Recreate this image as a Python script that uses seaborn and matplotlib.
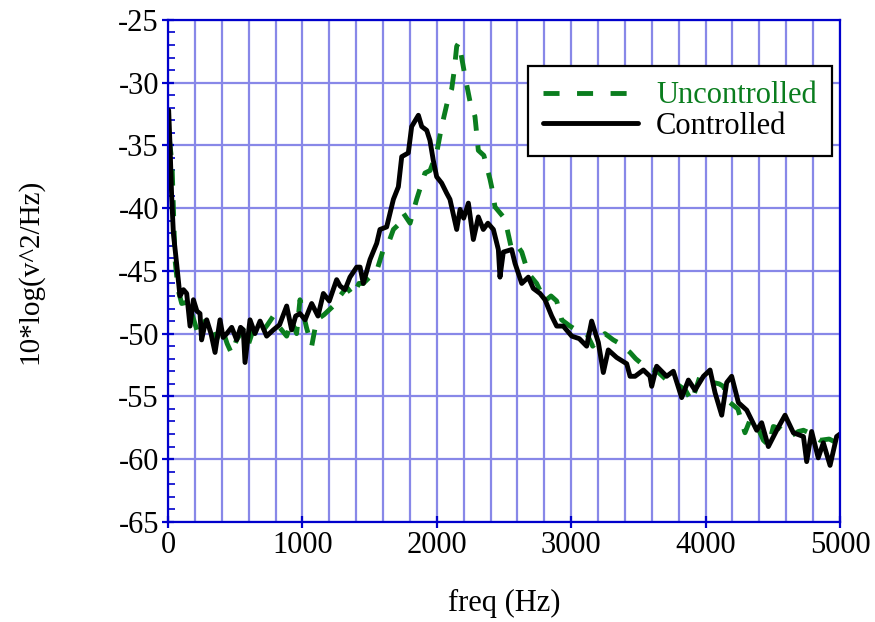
import pandas as pd
import matplotlib
matplotlib.use("Agg")
import matplotlib.pyplot as plt
from matplotlib.ticker import MultipleLocator
from matplotlib.lines import Line2D
import seaborn as sns

# Controlled (black) spectrum
ctrl_freq = [5, 15, 27, 40, 65, 89, 115, 139, 164, 189, 215, 238, 250, 270, 288, 320, 350, 387, 410, 437,
             474, 511, 540, 560, 573, 610, 647, 685, 734, 784, 830, 883, 920, 950, 982, 1020, 1069, 1116,
             1156, 1200, 1255, 1280, 1317, 1354, 1404, 1429, 1453, 1503, 1553, 1577, 1627, 1677, 1714,
             1739, 1788, 1813, 1863, 1888, 1925, 1949, 1974, 1999, 2036, 2073, 2098, 2148, 2173, 2200,
             2235, 2272, 2309, 2346, 2380, 2421, 2458, 2470, 2495, 2557, 2582, 2632, 2681, 2718, 2768,
             2805, 2855, 2892, 2941, 3004, 3060, 3115, 3152, 3202, 3239, 3276, 3338, 3413, 3438, 3475,
             3537, 3586, 3599, 3636, 3710, 3760, 3822, 3872, 3921, 3984, 4033, 4070, 4120, 4157, 4194,
             4244, 4306, 4380, 4417, 4467, 4529, 4591, 4653, 4728, 4752, 4789, 4838, 4876, 4926, 4975, 5000]
ctrl_db = [-32.2, -35.0, -39.0, -42.0, -44.5, -47.0, -46.5, -46.8, -49.4, -47.3, -48.2, -48.4, -50.5, -49.5,
           -48.9, -50.0, -51.5, -48.9, -50.3, -50.0, -49.5, -50.5, -49.5, -49.7, -52.3, -48.9, -50.0, -49.0,
           -50.2, -49.7, -49.3, -47.8, -49.7, -48.6, -48.4, -48.9, -47.6, -48.6, -46.8, -47.4, -45.7, -46.2,
           -46.5, -45.5, -44.7, -44.7, -46.0, -44.1, -42.8, -41.7, -41.5, -39.3, -38.3, -35.9, -35.6, -33.5,
           -32.6, -33.5, -33.8, -34.6, -36.2, -37.5, -38.0, -38.8, -39.3, -41.7, -40.1, -40.8, -39.6, -42.5,
           -40.7, -41.7, -41.2, -41.7, -43.3, -45.5, -43.5, -43.3, -44.4, -46.0, -45.5, -46.4, -46.8, -47.3,
           -48.6, -49.4, -49.4, -50.2, -50.4, -51.0, -49.0, -50.7, -53.1, -51.3, -51.9, -52.4, -53.4, -53.4,
           -52.9, -53.4, -54.2, -52.6, -53.4, -53.0, -55.1, -53.7, -54.5, -53.4, -52.9, -54.7, -56.5, -53.9,
           -53.4, -55.5, -56.1, -57.7, -57.1, -59.0, -57.7, -56.5, -57.9, -58.2, -60.2, -57.8, -59.9, -58.7,
           -60.5, -58.2, -58.0]

# Uncontrolled (green dashed) spectrum
unc_freq = [10, 30, 52, 75, 102, 140, 180, 238, 275, 312, 360, 400, 440, 474, 510, 560, 600, 640, 690, 740,
            784, 830, 883, 920, 957, 982, 1030, 1069, 1106, 1160, 1230, 1280, 1330, 1379, 1420, 1453, 1500,
            1553, 1602, 1640, 1677, 1726, 1751, 1801, 1850, 1912, 1950, 1999, 2036, 2086, 2111, 2130, 2148,
            2165, 2185, 2210, 2247, 2284, 2309, 2350, 2396, 2408, 2433, 2495, 2520, 2557, 2600, 2632, 2681,
            2743, 2805, 2850, 2892, 2929, 2991, 3050, 3115, 3160, 3202, 3251, 3313, 3363, 3438, 3480, 3524,
            3580, 3640, 3700, 3760, 3810, 3850, 3897, 3958, 4010, 4057, 4100, 4132, 4182, 4240, 4293, 4330,
            4380, 4430, 4470, 4504, 4560, 4628, 4690, 4728, 4790, 4851, 4920, 4975, 5000]
unc_db = [-34.5, -36.5, -44.1, -46.5, -47.6, -47.5, -48.5, -50.5, -49.0, -49.2, -50.5, -49.5, -50.8, -51.6,
          -50.5, -49.7, -50.8, -49.5, -50.0, -49.3, -48.6, -49.5, -50.2, -49.0, -50.0, -47.3, -49.5, -51.0,
          -48.9, -48.5, -47.8, -47.0, -46.3, -47.0, -46.0, -46.0, -45.5, -45.0, -43.3, -42.8, -41.7, -41.2,
          -40.4, -41.2, -39.3, -37.2, -37.0, -35.6, -33.5, -31.2, -30.5, -29.0, -27.1, -26.8, -28.0, -29.5,
          -31.5, -32.7, -35.4, -35.8, -37.7, -38.3, -39.9, -40.7, -41.5, -43.3, -43.0, -43.5, -45.2, -46.0,
          -47.4, -47.0, -47.4, -48.9, -49.4, -49.8, -50.0, -51.0, -50.5, -50.0, -50.5, -50.8, -51.5, -52.0,
          -52.4, -52.8, -53.0, -53.6, -53.8, -54.2, -54.5, -55.4, -53.4, -53.8, -53.9, -54.0, -54.2, -55.5,
          -56.0, -57.9, -56.9, -57.3, -58.5, -58.9, -57.4, -57.6, -58.2, -57.8, -57.7, -58.0, -58.5, -58.4,
          -58.7, -58.3]

series_labels = ["Uncontrolled", "Controlled"]
green = "#0a7d1e"
grid_col = "#8888e8"
spine_col = "#0000cc"

sns.set_theme(style="white")
plt.rcParams["font.family"] = ["Liberation Serif", "DejaVu Serif"]
plt.rcParams["axes.unicode_minus"] = False
plt.rcParams["text.color"] = "black"
plt.rcParams["axes.labelcolor"] = "black"

fig = plt.figure(figsize=(8.75, 6.22), dpi=100)
ax = fig.add_axes([0.192, 0.161, 0.768, 0.807])

unc = pd.DataFrame({"freq": unc_freq, "db": unc_db})
ctrl = pd.DataFrame({"freq": ctrl_freq, "db": ctrl_db})
sns.lineplot(data=unc, x="freq", y="db", ax=ax, color=green, linewidth=3.5,
             sort=False, estimator=None)
ax.lines[-1].set_dashes((3.3, 3.0))
sns.lineplot(data=ctrl, x="freq", y="db", ax=ax, color="black", linewidth=3.5,
             sort=False, estimator=None)

ax.set_xlim(0, 5000)
ax.set_ylim(-65, -25)
ax.xaxis.set_major_locator(MultipleLocator(1000))
ax.xaxis.set_minor_locator(MultipleLocator(200))
ax.yaxis.set_major_locator(MultipleLocator(5))
ax.yaxis.set_minor_locator(MultipleLocator(1))
ax.grid(True, which="both", axis="x", color=grid_col, linewidth=1.6)
ax.grid(True, which="major", axis="y", color=grid_col, linewidth=1.6)
ax.set_axisbelow(True)

for s in ax.spines.values():
    s.set_color(spine_col)
    s.set_linewidth(1.6)
ax.tick_params(axis="both", which="major", direction="inout", length=9, width=1.6,
               color=spine_col, labelsize=22, labelcolor="black", pad=2)
ax.tick_params(axis="y", which="minor", direction="in", length=5, width=1.2,
               color=spine_col, left=True)
ax.tick_params(axis="x", which="minor", length=0)
ax.tick_params(axis="y", which="major", left=True)
ax.tick_params(axis="x", which="major", bottom=True)

ax.set_xlabel("freq (Hz)", fontsize=22, labelpad=21, color="black")
ax.set_ylabel("10*log(v^2/Hz)", fontsize=21, labelpad=54, color="black")

handles = [Line2D([], [], color=green, linewidth=3.5, dashes=(3.3, 3.6)),
           Line2D([], [], color="black", linewidth=3.5)]
leg = ax.legend(handles, series_labels, loc="upper right", bbox_to_anchor=(0.988, 0.908),
                borderaxespad=0, fontsize=22, handlelength=3.1, handletextpad=0.6,
                labelspacing=0.05, borderpad=0.5, fancybox=False, framealpha=1)
leg.get_frame().set_edgecolor("black")
leg.get_frame().set_linewidth(1.6)
leg.get_texts()[0].set_color(green)
leg.get_texts()[1].set_color("black")

fig.savefig("out.png", dpi=100)
